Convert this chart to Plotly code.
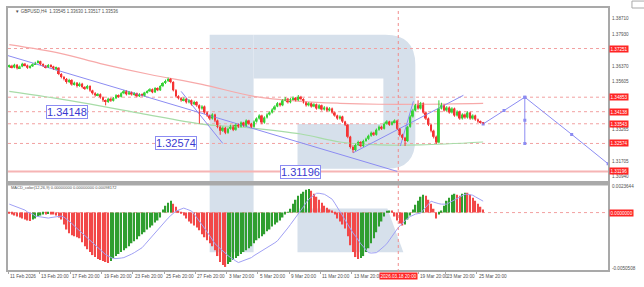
import plotly.graph_objects as go

# ---------------- data (GBPUSD H4) ----------------
# prices in 1/10000 (pips); 13640 -> 1.3640
opens_pips = [13635,13640,13632,13645,13628,13636,13650,13642,13630,13638,
13648,13655,13662,13648,13640,13632,13644,13636,13625,13630,
13600,13585,13575,13560,13570,13548,13556,13540,13552,13535,
13528,13540,13518,13505,13495,13500,13485,13470,13462,13478,
13468,13480,13495,13488,13505,13515,13500,13510,13498,13505,
13490,13500,13493,13508,13515,13525,13510,13530,13520,13540,
13555,13565,13575,13560,13520,13490,13480,13470,13478,13460,
13470,13450,13462,13445,13430,13440,13410,13395,13380,13400,
13370,13340,13320,13335,13310,13330,13345,13325,13350,13340,
13360,13345,13370,13355,13340,13365,13380,13395,13360,13385,
13400,13410,13425,13440,13455,13445,13470,13478,13460,13475,
13482,13470,13488,13476,13460,13445,13455,13440,13450,13430,
13445,13425,13435,13420,13430,13410,13395,13380,13390,13365,
13350,13290,13240,13225,13250,13265,13245,13270,13280,13295,
13310,13300,13325,13340,13330,13355,13365,13350,13362,13370,
13330,13300,13285,13270,13340,13390,13420,13445,13430,13455,
13410,13380,13350,13320,13290,13262,13430,13445,13420,13435,
13410,13430,13395,13415,13380,13400,13385,13410,13380,13395,
13375,13365,13360]
highs_pips = [13646,13645,13650,13648,13641,13655,13654,13646,13643,13652,
13660,13668,13665,13652,13644,13649,13648,13640,13636,13633,
13604,13590,13580,13576,13574,13562,13560,13558,13556,13540,
13546,13544,13522,13510,13506,13504,13489,13474,13483,13482,
13486,13500,13499,13510,13521,13519,13516,13514,13510,13508,
13505,13504,13512,13520,13530,13528,13535,13534,13545,13560,
13572,13582,13580,13564,13525,13495,13486,13484,13482,13476,
13474,13468,13466,13450,13446,13444,13414,13400,13406,13404,
13375,13345,13341,13339,13336,13350,13349,13356,13355,13366,
13364,13376,13374,13359,13371,13386,13401,13399,13391,13406,
13416,13431,13446,13461,13459,13476,13486,13482,13481,13489,
13486,13496,13492,13480,13464,13461,13459,13456,13454,13451,
13449,13441,13439,13436,13434,13414,13399,13396,13394,13369,
13354,13295,13248,13256,13271,13269,13276,13286,13301,13316,
13315,13331,13346,13345,13361,13372,13369,13368,13376,13374,
13334,13305,13290,13345,13396,13428,13452,13470,13462,13460,
13415,13385,13355,13325,13296,13470,13458,13450,13441,13440,
13436,13434,13421,13419,13406,13405,13416,13414,13401,13399,
13380,13370,13363]
lows_pips = [13630,13627,13628,13622,13624,13633,13637,13625,13626,13634,
13644,13651,13643,13634,13627,13629,13631,13620,13618,13594,
13578,13568,13552,13555,13542,13543,13533,13536,13529,13521,
13524,13512,13498,13488,13490,13478,13462,13445,13457,13462,
13464,13476,13482,13484,13500,13494,13496,13493,13493,13485,
13486,13488,13489,13503,13511,13505,13506,13515,13516,13535,
13550,13560,13554,13514,13484,13474,13463,13465,13454,13455,
13444,13446,13438,13355,13424,13404,13388,13372,13375,13362,
13332,13300,13314,13303,13305,13325,13318,13320,13334,13336,
13339,13340,13349,13334,13335,13360,13375,13352,13355,13380,
13395,13405,13420,13436,13439,13441,13465,13454,13455,13470,
13464,13466,13470,13454,13439,13440,13434,13436,13424,13426,
13419,13420,13414,13415,13404,13389,13374,13375,13359,13343,
13283,13232,13212,13220,13245,13238,13240,13265,13275,13290,
13294,13296,13320,13324,13326,13350,13344,13346,13357,13324,
13292,13276,13245,13265,13335,13385,13415,13424,13425,13404,
13373,13343,13312,13282,13255,13258,13425,13414,13415,13404,
13405,13389,13390,13374,13375,13379,13380,13374,13375,13369,
13359,13355,13352]
closes_pips = [13640,13632,13645,13628,13636,13650,13642,13630,13638,13648,
13655,13662,13648,13640,13632,13644,13636,13625,13630,13600,
13585,13575,13560,13570,13548,13556,13540,13552,13535,13528,
13540,13518,13505,13495,13500,13485,13470,13462,13478,13468,
13480,13495,13488,13505,13515,13500,13510,13498,13505,13490,
13500,13493,13508,13515,13525,13510,13530,13520,13540,13555,
13565,13575,13560,13520,13490,13480,13470,13478,13460,13470,
13450,13462,13445,13430,13440,13410,13395,13380,13400,13370,
13340,13320,13335,13310,13330,13345,13325,13350,13340,13360,
13345,13370,13355,13340,13365,13380,13395,13360,13385,13400,
13410,13425,13440,13455,13445,13470,13478,13460,13475,13482,
13470,13488,13476,13460,13445,13455,13440,13450,13430,13445,
13425,13435,13420,13430,13410,13395,13380,13390,13365,13350,
13290,13240,13225,13250,13265,13245,13270,13280,13295,13310,
13300,13325,13340,13330,13355,13365,13350,13362,13370,13330,
13300,13285,13270,13340,13390,13420,13445,13430,13455,13410,
13380,13350,13320,13290,13262,13430,13445,13420,13435,13410,
13430,13395,13415,13380,13400,13385,13410,13380,13395,13375,
13365,13360,13354]

# MACD histogram and signal in 1e-5 units
macd_hist = [-9,-18,-27,-36,-45,-54,-63,-72,-77,-63,
-54,-36,-27,-18,-18,-14,-18,-18,-27,-45,
-63,-108,-153,-189,-207,-216,-225,-234,-270,-306,
-333,-360,-387,-405,-423,-432,-441,-450,-459,-441,
-414,-396,-378,-360,-342,-324,-306,-279,-261,-243,
-216,-198,-180,-153,-135,-117,-90,-72,-45,27,
63,90,108,81,54,18,-9,-27,-54,-81,
-99,-117,-135,-162,-198,-225,-252,-279,-306,-342,
-396,-450,-477,-495,-468,-450,-432,-414,-396,-378,
-360,-342,-324,-306,-279,-252,-234,-216,-198,-171,
-153,-126,-108,-90,-72,-45,-18,5,36,81,
117,153,171,189,207,216,198,171,144,117,
90,63,45,27,18,-18,-54,-81,-108,-144,
-216,-297,-360,-405,-423,-414,-396,-360,-324,-279,
-234,-180,-126,-81,-36,9,18,18,-36,-72,
-99,-117,-108,-63,-27,27,72,108,144,162,
153,117,81,36,-54,-18,18,63,108,135,
162,171,162,153,171,180,180,162,135,108,
81,54,27]
macd_signal = [77,68,59,50,41,32,23,5,-5,-14,
-32,-36,-41,-45,-50,-50,-45,-41,-36,-32,
-32,-41,-59,-77,-99,-122,-144,-167,-189,-212,
-234,-257,-279,-302,-324,-347,-365,-383,-396,-410,
-419,-419,-419,-414,-410,-401,-392,-378,-365,-351,
-338,-320,-293,-266,-239,-212,-180,-149,-122,-99,
-77,-50,-27,-5,14,23,32,41,32,23,
14,-14,-45,-77,-104,-140,-176,-212,-248,-284,
-306,-329,-351,-374,-392,-410,-428,-441,-455,-446,
-437,-428,-419,-410,-392,-378,-365,-347,-333,-320,
-306,-293,-275,-257,-230,-203,-171,-140,-108,-77,
-45,-14,23,54,90,122,140,158,176,176,
171,167,153,140,122,86,50,14,-27,-68,
-108,-149,-185,-216,-252,-284,-311,-338,-365,-369,
-369,-365,-347,-329,-306,-284,-248,-212,-180,-149,
-122,-95,-72,-50,-36,-23,-14,-9,-5,23,
50,77,104,95,86,81,77,77,77,90,
104,117,131,144,158,167,167,162,158,144,
131,117,104]

# moving averages (bar index, price)
ma_red_x = [0, 20, 35, 54, 74, 94, 112, 127, 142, 158, 182]
ma_red_y = [1.37439, 1.36998, 1.36510, 1.35972, 1.35483, 1.34896, 1.34651, 1.34553, 1.34505, 1.34505, 1.34553]
ma_green_x = [0, 25, 50, 74, 93, 112, 127, 142, 158, 182]
ma_green_y = [1.35140, 1.34651, 1.34064, 1.33527, 1.33331, 1.33038, 1.32646, 1.32500, 1.32500, 1.32646]

# trend / projection lines (bar index, price)
trend1_x = [-0.5, 149.0]
trend1_y = [1.36901, 1.31196]
trend2_x = [66, 82]
trend2_y = [1.35140, 1.32574]
trend3_x = [132, 174.4]
trend3_y = [1.32110, 1.34945]
trend4_x = [150.2, 155.2]
trend4_y = [1.32450, 1.34650]
forecast_x = [182, 190, 198, 216, 230]
forecast_y = [1.33536, 1.34195, 1.34853, 1.33020, 1.31570]
vert_x = [198, 198, 198]
vert_y = [1.34853, 1.33714, 1.32574]

# horizontal levels
dotted_levels = [1.37251, 1.34853, 1.34138, 1.33543, 1.32574]
solid_level = 1.31196
level_labels = ["1.37251", "1.34853", "1.34138", "1.33543", "1.32574", "1.31196"]
level_values = [1.37251, 1.34853, 1.34138, 1.33543, 1.32574, 1.31196]

price_ticks = [1.38710, 1.37930, 1.36370, 1.35605, 1.33265, 1.31705, 1.30940]
target_labels = ["1.34148", "1.32574", "1.31196"]

date_labels = ["11 Feb 2026", "13 Feb 20:00", "17 Feb 20:00", "19 Feb 20:00", "23 Feb 20:00",
               "25 Feb 20:00", "27 Feb 20:00", "3 Mar 20:00", "5 Mar 20:00", "9 Mar 20:00",
               "11 Mar 20:00", "13 Mar 20:00", "19 Mar 20:00", "23 Mar 20:00", "25 Mar 20:00"]
date_label_idx = [-0.5, 11.5, 23.5, 35.5, 47.5, 59.5, 71.5, 83.5, 95.5, 107.5, 119.5, 131.5, 157.0, 167.5, 179.5]
cursor_idx = 149.4
cursor_label = "2026.03.18 20:00"

title_text = "\u25bc GBPUSD,H4  1.33545 1.33630 1.33517 1.33536"
macd_text = "MACD_color(12,26,9) 0.00000000 0.00000000 0.00098172"
macd_top_label = "0.0023644"
macd_bot_label = "-0.0050508"
macd_zero_label = "0.0000000"

# ---------------- layout helpers ----------------
W, H = 644, 287
ML, MR, MT, MB = 7, 36, 6, 17
PW, PH = W - ML - MR, H - MT - MB


def fx(x):
    return (x - ML) / PW


def fy(y):
    return (H - MB - y) / PH


opens = [v / 1e4 for v in opens_pips]
highs = [v / 1e4 for v in highs_pips]
lows = [v / 1e4 for v in lows_pips]
closes = [v / 1e4 for v in closes_pips]
hist = [v * 1e-5 for v in macd_hist]
signal = [v * 1e-5 for v in macd_signal]
idx = list(range(len(closes)))

GREEN = "#36d236"
RED = "#f53434"
BLUE = "#8c8cf2"
WM = "#d6e0eb"
AXIS = "#a9a9a9"
TXT = "#505050"
FONT = "Liberation Sans"

fig = go.Figure()

fig.add_trace(go.Scatter(x=ma_red_x, y=ma_red_y, mode="lines", line=dict(color="#f7a9a9", width=1.2, shape="spline"), xaxis="x", yaxis="y"))
fig.add_trace(go.Scatter(x=ma_green_x, y=ma_green_y, mode="lines", line=dict(color="#a8dca8", width=1.2, shape="spline"), xaxis="x", yaxis="y"))

for tx, ty in [(trend1_x, trend1_y), (trend2_x, trend2_y), (trend3_x, trend3_y), (trend4_x, trend4_y)]:
    fig.add_trace(go.Scatter(x=tx, y=ty, mode="lines", line=dict(color=BLUE, width=1), xaxis="x", yaxis="y"))
fig.add_trace(go.Scatter(x=forecast_x, y=forecast_y, mode="lines+markers", line=dict(color=BLUE, width=1),
                         marker=dict(size=3, color=BLUE, symbol="square"), xaxis="x", yaxis="y"))
fig.add_trace(go.Scatter(x=vert_x, y=vert_y, mode="lines+markers", line=dict(color=BLUE, width=1),
                         marker=dict(size=3, color=BLUE, symbol="square"), xaxis="x", yaxis="y"))

# candles: wicks + bodies
for up, col in [(True, GREEN), (False, RED)]:
    wx, wy = [], []
    bx, bb, bh = [], [], []
    for i in idx:
        if (closes[i] >= opens[i]) != up:
            continue
        wx += [i, i, None]
        wy += [lows[i], highs[i], None]
        bx.append(i)
        bb.append(min(opens[i], closes[i]))
        bh.append(max(abs(closes[i] - opens[i]), 0.00004))
    fig.add_trace(go.Scatter(x=wx, y=wy, mode="lines", line=dict(color=col, width=1), xaxis="x", yaxis="y"))
    fig.add_trace(go.Bar(x=bx, y=bh, base=bb, width=0.72, marker=dict(color=col, line=dict(width=0)),
                         xaxis="x", yaxis="y"))

bar_colors = ["#2f9e2f" if (i > 0 and hist[i] > hist[i - 1]) else "#f24848" for i in idx]
fig.add_trace(go.Bar(x=idx, y=hist, marker=dict(color=bar_colors, line=dict(width=0)), width=0.55, xaxis="x2", yaxis="y2"))
fig.add_trace(go.Scatter(x=idx, y=signal, mode="lines", line=dict(color="#a0a0f4", width=1), xaxis="x2", yaxis="y2"))

shapes = []
# watermark "R"
wm_paths = [
    "M209,33 L253,33 L253,252 L209,252 Z",
    "M253,33 L385,33 Q415,33 415,63 L415,138 Q415,168 387,168 L297,168 L297,123 L383,123 L383,77 L253,77 Z",
    "M297,208 L387,208 L403,252 L297,252 Z",
]


def conv_path(p):
    out = []
    for tok in p.split():
        if "," in tok:
            cmd = ""
            if tok[0].isalpha():
                cmd, tok = tok[0], tok[1:]
            a, b = tok.split(",")
            out.append("%s%.5f,%.5f" % (cmd, fx(float(a)), fy(float(b))))
        else:
            out.append(tok)
    return " ".join(out)


for p in wm_paths:
    shapes.append(dict(type="path", path=conv_path(p), xref="paper", yref="paper",
                       fillcolor=WM, line=dict(width=0), layer="below"))

for lv in dotted_levels:
    shapes.append(dict(type="line", xref="paper", x0=0, x1=1, yref="y", y0=lv, y1=lv,
                       line=dict(color="#f2a0a0", width=1, dash="dot"), layer="below"))
shapes.append(dict(type="line", xref="paper", x0=0, x1=1, yref="y", y0=solid_level, y1=solid_level,
                   line=dict(color="#f6b4b4", width=2), layer="below"))
shapes.append(dict(type="line", xref="paper", x0=0, x1=1, yref="y2", y0=0, y1=0,
                   line=dict(color="#f2a0a0", width=1, dash="dot"), layer="below"))
shapes.append(dict(type="line", xref="x", x0=cursor_idx, x1=cursor_idx, yref="paper", y0=fy(272), y1=1,
                   line=dict(color="#f08c8c", width=1, dash="dot"), layer="above"))
shapes.append(dict(type="line", xref="paper", x0=0, x1=1, yref="paper", y0=fy(181), y1=fy(181),
                   line=dict(color=AXIS, width=1.5)))
shapes.append(dict(type="line", xref="paper", x0=0, x1=1, yref="paper", y0=fy(184), y1=fy(184),
                   line=dict(color=AXIS, width=1.5)))
shapes.append(dict(type="rect", xref="paper", yref="paper", x0=fx(632), x1=fx(645), y0=fy(6), y1=fy(-1),
                   line=dict(color=AXIS, width=1)))

ann = []
ann.append(dict(text=title_text, x=fx(12), y=fy(10), xref="paper", yref="paper", xanchor="left", yanchor="middle",
                showarrow=False, font=dict(size=4.5, color=TXT, family=FONT)))
ann.append(dict(text=macd_text, x=fx(8), y=fy(187), xref="paper", yref="paper", xanchor="left", yanchor="middle",
                showarrow=False, font=dict(size=4, color=TXT, family=FONT)))

for v in price_ticks:
    ann.append(dict(text="%.5f" % v, x=fx(610), y=v, xref="paper", yref="y", xanchor="left", yanchor="middle",
                    showarrow=False, font=dict(size=4.6, color=TXT, family=FONT)))
for t, v in zip(level_labels, level_values):
    ann.append(dict(text=t, x=fx(609), y=v, xref="paper", yref="y", xanchor="left", yanchor="middle",
                    showarrow=False, bgcolor="#ff2424", borderpad=0.5,
                    font=dict(size=4.6, color="white", family=FONT)))
ann.append(dict(text=macd_top_label, x=fx(610), y=fy(186), xref="paper", yref="paper", xanchor="left", yanchor="middle",
                showarrow=False, font=dict(size=4.6, color=TXT, family=FONT)))
ann.append(dict(text=macd_bot_label, x=fx(610), y=fy(268), xref="paper", yref="paper", xanchor="left", yanchor="middle",
                showarrow=False, font=dict(size=4.6, color=TXT, family=FONT)))
ann.append(dict(text=macd_zero_label, x=fx(609), y=0, xref="paper", yref="y2", xanchor="left", yanchor="middle",
                showarrow=False, bgcolor="#ff2424", borderpad=0.5,
                font=dict(size=4.6, color="white", family=FONT)))

for t, xi in zip(date_labels, date_label_idx):
    ann.append(dict(text=t, x=xi, y=fy(272), xref="x2", yref="paper", xanchor="left", yanchor="top",
                    showarrow=False, font=dict(size=4.7, color=TXT, family=FONT)))
ann.append(dict(text=cursor_label, x=cursor_idx, y=fy(272), xref="x2", yref="paper", xanchor="center", yanchor="top",
                showarrow=False, bgcolor="#ff2424", borderpad=0.5,
                font=dict(size=4.6, color="white", family=FONT)))

box_pos = [(66, 111), (175, 142), (300, 171)]
for t, (bx, by) in zip(target_labels, box_pos):
    ann.append(dict(text=t, x=fx(bx), y=fy(by), xref="paper", yref="paper", xanchor="center", yanchor="middle",
                    showarrow=False, bgcolor="white", bordercolor="#8c8cf2", borderwidth=1, borderpad=0,
                    font=dict(size=11, color="#3a3ad0", family=FONT)))

fig.update_layout(
    width=W, height=H, margin=dict(l=ML, r=MR, t=MT, b=MB),
    paper_bgcolor="white", plot_bgcolor="white", showlegend=False,
    shapes=shapes, annotations=ann, barmode="overlay",
    xaxis=dict(domain=[0, 1], range=[-0.5, 229.95], anchor="y", showticklabels=False, showgrid=False,
               zeroline=False, showline=True, mirror=True, linecolor=AXIS, linewidth=1.5, ticks=""),
    yaxis=dict(domain=[fy(181), 1], range=[1.30690, 1.39248], side="right", showticklabels=False,
               showgrid=False, zeroline=False, showline=True, mirror=True, linecolor=AXIS, linewidth=1.5),
    xaxis2=dict(domain=[0, 1], range=[-0.5, 229.95], anchor="y2", matches="x", showticklabels=False,
                showgrid=False, zeroline=False, showline=True, mirror=True, linecolor=AXIS, linewidth=1.5,
                tickvals=date_label_idx, ticks="outside", ticklen=2, tickcolor=AXIS),
    yaxis2=dict(domain=[0, fy(184)], range=[-0.00523, 0.002545], side="right", showticklabels=False,
                showgrid=False, zeroline=False, showline=True, mirror=True, linecolor=AXIS, linewidth=1.5),
)

fig.write_html("out.html")
